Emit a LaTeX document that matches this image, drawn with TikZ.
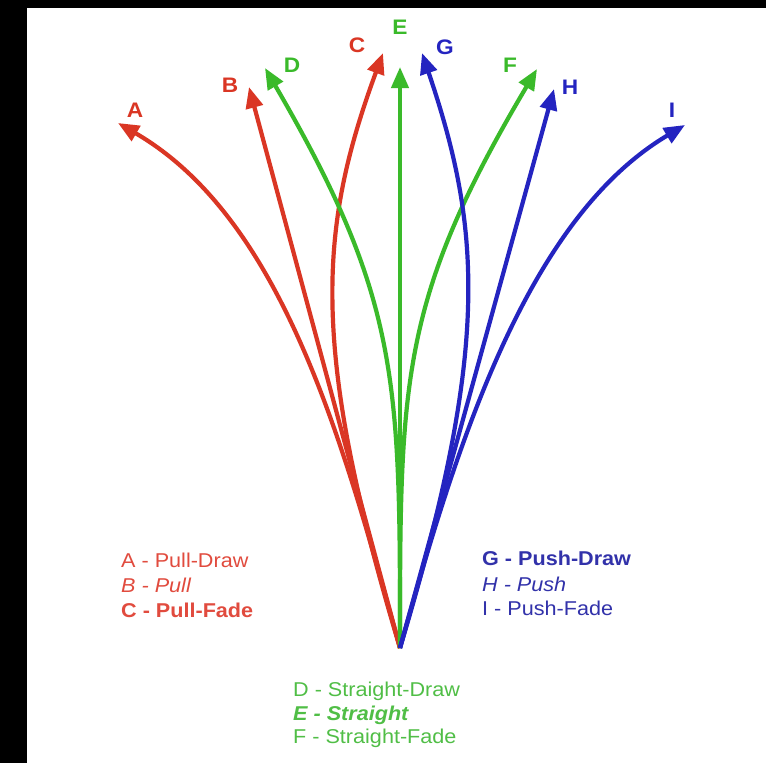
\documentclass[tikz,border=0pt]{standalone}
\usepackage{fontspec}
\setmainfont[FakeStretch=1.08]{Liberation Sans}
\usetikzlibrary{arrows.meta}
\definecolor{cred}{RGB}{218,54,36}
\definecolor{cgreen}{RGB}{58,186,42}
\definecolor{cblue}{RGB}{36,36,192}
\definecolor{tred}{RGB}{225,75,62}
\definecolor{tgreen}{RGB}{80,190,70}
\definecolor{tblue}{RGB}{50,50,170}
\tikzset{
  arr/.style={line width=4.2pt, -{Triangle[length=21pt,width=17pt]}},
  tip/.style={font=\fontsize{21}{21}\selectfont\bfseries, inner sep=0pt},
  legend/.style={font=\fontsize{20}{20}\selectfont, anchor=base west, inner sep=0pt},
}
\begin{document}
\begin{tikzpicture}[x=1pt,y=-1pt]
\useasboundingbox (0,0) rectangle (766,763);
\fill[white] (0,0) rectangle (766,763);
\fill[black] (0,0) rectangle (766,8);
\fill[black] (0,0) rectangle (27,763);

\coordinate (O) at (400,648);
\coordinate (tA) at (118,123);
\coordinate (tB) at (249,87);
\coordinate (tC) at (383,53);
\coordinate (tD) at (265,68);
\coordinate (tE) at (400,67);
\coordinate (tF) at (537,69);
\coordinate (tG) at (422,53);
\coordinate (tH) at (554,89);
\coordinate (tI) at (685,125);

% red
\draw[arr, cred] (O) .. controls (345,450) and (285,220) .. (tA);
\draw[arr, cred] (O) -- (tB);
\draw[arr, cred] (O) .. controls (310,348) and (318,230) .. (tC);
% green
\draw[arr, cgreen] (O) .. controls (400,380) and (400,300) .. (tD);
\draw[arr, cgreen] (O) -- (tE);
\draw[arr, cgreen] (O) .. controls (400,380) and (400,300) .. (tF);
% blue
\draw[arr, cblue] (O) .. controls (490,348) and (482,230) .. (tG);
\draw[arr, cblue] (O) -- (tH);
\draw[arr, cblue] (O) .. controls (455,450) and (525,220) .. (tI);

% tip labels
\node[tip, text=cred] (lA) at (135,110) {A};
\node[tip, text=cred] (lB) at (230,85) {B};
\node[tip, text=cred] (lC) at (357,45) {C};
\node[tip, text=cgreen] (lD) at (292,65) {D};
\node[tip, text=cgreen] (lE) at (400,27) {E};
\node[tip, text=cgreen] (lF) at (510,65) {F};
\node[tip, text=cblue] (lG) at (445,47) {G};
\node[tip, text=cblue] (lH) at (570,87) {H};
\node[tip, text=cblue] (lI) at (672,110) {I};

% legends
\node[legend, text=tred] (gA) at (121,567) {A - Pull-Draw};
\node[legend, text=tred] (gB) at (121,592) {\itshape B - Pull};
\node[legend, text=tred] (gC) at (121,617) {\bfseries C - Pull-Fade};

\node[legend, text=tblue] (gG) at (482,565) {\bfseries G - Push-Draw};
\node[legend, text=tblue] (gH) at (482,591) {\itshape H - Push};
\node[legend, text=tblue] (gI) at (482,615) {I - Push-Fade};

\node[legend, text=tgreen] (gD) at (293,696) {D - Straight-Draw};
\node[legend, text=tgreen] (gE) at (293,720) {\bfseries\itshape E - Straight};
\node[legend, text=tgreen] (gF) at (293,743) {F - Straight-Fade};
\end{tikzpicture}
\end{document}
